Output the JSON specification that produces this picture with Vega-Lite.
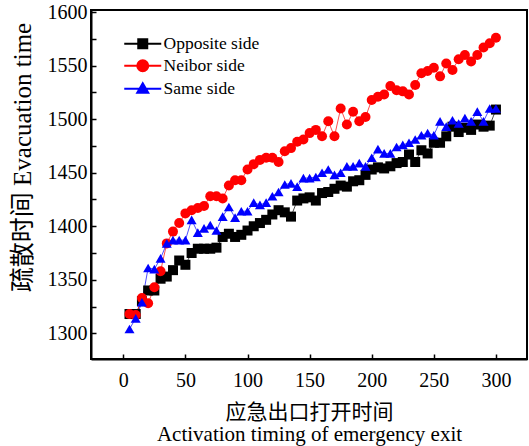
{
"$schema": "https://vega.github.io/schema/vega-lite/v6.json",
"width": 436, "height": 349,
"autosize": {"type": "none"},
"padding": {"left": 91, "top": 10, "right": 2, "bottom": 87},
"background": "white",
"config": {"view": {"stroke": "black", "strokeWidth": 2}, "font": "Liberation Serif"},
"data": {"values": [
{"s":"Opposite side","t":5,"v":1318},{"s":"Opposite side","t":10,"v":1318},{"s":"Opposite side","t":15,"v":1330},{"s":"Opposite side","t":20,"v":1340},{"s":"Opposite side","t":25,"v":1340},{"s":"Opposite side","t":30,"v":1351},{"s":"Opposite side","t":35,"v":1353},{"s":"Opposite side","t":40,"v":1359},{"s":"Opposite side","t":45,"v":1368},{"s":"Opposite side","t":50,"v":1364},
{"s":"Opposite side","t":55,"v":1375},{"s":"Opposite side","t":60,"v":1379},{"s":"Opposite side","t":65,"v":1379},{"s":"Opposite side","t":70,"v":1379},{"s":"Opposite side","t":75,"v":1380},{"s":"Opposite side","t":80,"v":1390},{"s":"Opposite side","t":85,"v":1393},{"s":"Opposite side","t":90,"v":1390},{"s":"Opposite side","t":95,"v":1392},{"s":"Opposite side","t":100,"v":1396},
{"s":"Opposite side","t":105,"v":1400},{"s":"Opposite side","t":110,"v":1403},{"s":"Opposite side","t":115,"v":1406},{"s":"Opposite side","t":120,"v":1411},{"s":"Opposite side","t":125,"v":1415},{"s":"Opposite side","t":130,"v":1413},{"s":"Opposite side","t":135,"v":1409},{"s":"Opposite side","t":140,"v":1424},{"s":"Opposite side","t":145,"v":1426},{"s":"Opposite side","t":150,"v":1427},
{"s":"Opposite side","t":155,"v":1424},{"s":"Opposite side","t":160,"v":1431},{"s":"Opposite side","t":165,"v":1432},{"s":"Opposite side","t":170,"v":1435},{"s":"Opposite side","t":175,"v":1438},{"s":"Opposite side","t":180,"v":1437},{"s":"Opposite side","t":185,"v":1442},{"s":"Opposite side","t":190,"v":1443},{"s":"Opposite side","t":195,"v":1448},{"s":"Opposite side","t":200,"v":1453},
{"s":"Opposite side","t":205,"v":1455},{"s":"Opposite side","t":210,"v":1454},{"s":"Opposite side","t":215,"v":1456},{"s":"Opposite side","t":220,"v":1459},{"s":"Opposite side","t":225,"v":1460},{"s":"Opposite side","t":230,"v":1467},{"s":"Opposite side","t":235,"v":1460},{"s":"Opposite side","t":240,"v":1471},{"s":"Opposite side","t":245,"v":1468},{"s":"Opposite side","t":250,"v":1478},
{"s":"Opposite side","t":255,"v":1478},{"s":"Opposite side","t":260,"v":1484},{"s":"Opposite side","t":265,"v":1493},{"s":"Opposite side","t":270,"v":1488},{"s":"Opposite side","t":275,"v":1492},{"s":"Opposite side","t":280,"v":1490},{"s":"Opposite side","t":285,"v":1495},{"s":"Opposite side","t":290,"v":1493},{"s":"Opposite side","t":295,"v":1494},{"s":"Opposite side","t":300,"v":1509},
{"s":"Neibor side","t":5,"v":1318},{"s":"Neibor side","t":10,"v":1317},{"s":"Neibor side","t":15,"v":1333},{"s":"Neibor side","t":20,"v":1328},{"s":"Neibor side","t":25,"v":1343},{"s":"Neibor side","t":30,"v":1358},{"s":"Neibor side","t":35,"v":1384},{"s":"Neibor side","t":40,"v":1395},{"s":"Neibor side","t":45,"v":1403},{"s":"Neibor side","t":50,"v":1412},
{"s":"Neibor side","t":55,"v":1415},{"s":"Neibor side","t":60,"v":1417},{"s":"Neibor side","t":65,"v":1419},{"s":"Neibor side","t":70,"v":1428},{"s":"Neibor side","t":75,"v":1428},{"s":"Neibor side","t":80,"v":1426},{"s":"Neibor side","t":85,"v":1438},{"s":"Neibor side","t":90,"v":1443},{"s":"Neibor side","t":95,"v":1443},{"s":"Neibor side","t":100,"v":1453},
{"s":"Neibor side","t":105,"v":1458},{"s":"Neibor side","t":110,"v":1462},{"s":"Neibor side","t":115,"v":1464},{"s":"Neibor side","t":120,"v":1464},{"s":"Neibor side","t":125,"v":1460},{"s":"Neibor side","t":130,"v":1470},{"s":"Neibor side","t":135,"v":1473},{"s":"Neibor side","t":140,"v":1479},{"s":"Neibor side","t":145,"v":1481},{"s":"Neibor side","t":150,"v":1487},
{"s":"Neibor side","t":155,"v":1490},{"s":"Neibor side","t":160,"v":1484},{"s":"Neibor side","t":165,"v":1498},{"s":"Neibor side","t":170,"v":1484},{"s":"Neibor side","t":175,"v":1510},{"s":"Neibor side","t":180,"v":1495},{"s":"Neibor side","t":185,"v":1507},{"s":"Neibor side","t":190,"v":1498},{"s":"Neibor side","t":195,"v":1502},{"s":"Neibor side","t":200,"v":1518},
{"s":"Neibor side","t":205,"v":1521},{"s":"Neibor side","t":210,"v":1523},{"s":"Neibor side","t":215,"v":1531},{"s":"Neibor side","t":220,"v":1527},{"s":"Neibor side","t":225,"v":1526},{"s":"Neibor side","t":230,"v":1523},{"s":"Neibor side","t":235,"v":1532},{"s":"Neibor side","t":240,"v":1543},{"s":"Neibor side","t":245,"v":1545},{"s":"Neibor side","t":250,"v":1548},
{"s":"Neibor side","t":255,"v":1540},{"s":"Neibor side","t":260,"v":1552},{"s":"Neibor side","t":265,"v":1546},{"s":"Neibor side","t":270,"v":1556},{"s":"Neibor side","t":275,"v":1560},{"s":"Neibor side","t":280,"v":1554},{"s":"Neibor side","t":285,"v":1560},{"s":"Neibor side","t":290,"v":1567},{"s":"Neibor side","t":295,"v":1571},{"s":"Neibor side","t":300,"v":1576},
{"s":"Same side","t":5,"v":1304},{"s":"Same side","t":10,"v":1314},{"s":"Same side","t":15,"v":1329},{"s":"Same side","t":20,"v":1361},{"s":"Same side","t":25,"v":1360},{"s":"Same side","t":30,"v":1370},{"s":"Same side","t":35,"v":1384},{"s":"Same side","t":40,"v":1387},{"s":"Same side","t":45,"v":1387},{"s":"Same side","t":50,"v":1387},
{"s":"Same side","t":55,"v":1406},{"s":"Same side","t":60,"v":1394},{"s":"Same side","t":65,"v":1398},{"s":"Same side","t":70,"v":1401},{"s":"Same side","t":75,"v":1396},{"s":"Same side","t":80,"v":1409},{"s":"Same side","t":85,"v":1418},{"s":"Same side","t":90,"v":1408},{"s":"Same side","t":95,"v":1414},{"s":"Same side","t":100,"v":1414},
{"s":"Same side","t":105,"v":1422},{"s":"Same side","t":110,"v":1420},{"s":"Same side","t":115,"v":1422},{"s":"Same side","t":120,"v":1428},{"s":"Same side","t":125,"v":1432},{"s":"Same side","t":130,"v":1439},{"s":"Same side","t":135,"v":1440},{"s":"Same side","t":140,"v":1437},{"s":"Same side","t":145,"v":1445},{"s":"Same side","t":150,"v":1445},
{"s":"Same side","t":155,"v":1446},{"s":"Same side","t":160,"v":1450},{"s":"Same side","t":165,"v":1453},{"s":"Same side","t":170,"v":1448},{"s":"Same side","t":175,"v":1450},{"s":"Same side","t":180,"v":1456},{"s":"Same side","t":185,"v":1456},{"s":"Same side","t":190,"v":1459},{"s":"Same side","t":195,"v":1456},{"s":"Same side","t":200,"v":1464},
{"s":"Same side","t":205,"v":1472},{"s":"Same side","t":210,"v":1468},{"s":"Same side","t":215,"v":1468},{"s":"Same side","t":220,"v":1474},{"s":"Same side","t":225,"v":1476},{"s":"Same side","t":230,"v":1478},{"s":"Same side","t":235,"v":1481},{"s":"Same side","t":240,"v":1485},{"s":"Same side","t":245,"v":1487},{"s":"Same side","t":250,"v":1485},
{"s":"Same side","t":255,"v":1498},{"s":"Same side","t":260,"v":1493},{"s":"Same side","t":265,"v":1499},{"s":"Same side","t":270,"v":1496},{"s":"Same side","t":275,"v":1501},{"s":"Same side","t":280,"v":1498},{"s":"Same side","t":285,"v":1507},{"s":"Same side","t":290,"v":1498},{"s":"Same side","t":295,"v":1510},{"s":"Same side","t":300,"v":1510}
]},
"encoding": {
  "x": {"field": "t", "type": "quantitative",
    "scale": {"domain": [-26, 325], "nice": false, "zero": false},
    "axis": {"values": [0, 50, 100, 150, 200, 250, 300], "grid": false, "tickSize": -5, "tickWidth": 1.5, "tickColor": "black",
      "domainColor": "black", "domainWidth": 2, "labelFont": "Liberation Serif", "labelFontSize": 20, "labelColor": "black", "labelPadding": 16,
      "title": ["应急出口打开时间", "Activation timing of emergency exit"], "titleFont": "Liberation Serif, Noto Sans CJK SC", "titleFontSize": 21,
      "titleFontWeight": "normal", "titleColor": "black", "titleLineHeight": 22, "titleBaseline": "alphabetic", "titleY": 59}},
  "y": {"field": "v", "type": "quantitative",
    "scale": {"domain": [1276, 1602], "nice": false, "zero": false},
    "axis": {"values": [1300, 1325, 1350, 1375, 1400, 1425, 1450, 1475, 1500, 1525, 1550, 1575, 1600], "format": "d",
      "labelExpr": "datum.value % 50 === 0 ? datum.label : ''", "grid": false, "tickSize": -5, "tickWidth": 1.5, "tickColor": "black",
      "domainColor": "black", "domainWidth": 2, "labelFont": "Liberation Serif", "labelFontSize": 20, "labelColor": "black", "labelPadding": 9,
      "title": "疏散时间 Evacuation time", "titleFont": "Liberation Serif, Noto Sans CJK SC", "titleFontSize": 25, "titleFontWeight": "normal",
      "titleColor": "black", "titleX": -69, "titleY": 147, "titleAlign": "center", "titleBaseline": "middle", "titleAngle": -90}},
  "color": {"field": "s", "type": "nominal",
    "scale": {"domain": ["Opposite side", "Neibor side", "Same side"], "range": ["#000000", "#ff0000", "#0000ff"]},
    "legend": {"orient": "none", "legendX": 43, "legendY": 25, "title": null, "padding": 0, "offset": 0,
      "labelFont": "Liberation Serif", "labelFontSize": 17.5, "labelColor": "black", "labelOffset": 12, "rowPadding": 3,
      "symbolSize": 100, "symbolStrokeWidth": 2,
      "encode": {
        "symbols": {"update": {
          "shape": {"signal": "datum.value === 'Opposite side' ? 'M-3.7,0H3.7M-0.9,-0.9H0.9V0.9H-0.9Z' : datum.value === 'Neibor side' ? 'M-3.7,0H3.7M-1.1,0A1.1,1.1,0,1,1,1.1,0A1.1,1.1,0,1,1,-1.1,0Z' : 'M-3.7,0H3.7M0,-1.1L1.1,0.8H-1.1Z'"},
          "strokeWidth": {"value": 2},
          "size": {"value": 100},
          "opacity": {"value": 1},
          "fillOpacity": {"value": 1},
          "strokeOpacity": {"value": 1}}},
        "labels": {"update": {"font": {"value": "Liberation Serif"}, "fontSize": {"value": 17.5}}}}}}
},
"layer": [
  {"mark": {"type": "line", "strokeWidth": 0.7}},
  {"mark": {"type": "point", "filled": true, "opacity": 1, "size": 100},
   "encoding": {"shape": {"field": "s", "type": "nominal",
     "scale": {"range": ["circle", "square", "triangle-up"]}, "legend": null}}}
]
}
